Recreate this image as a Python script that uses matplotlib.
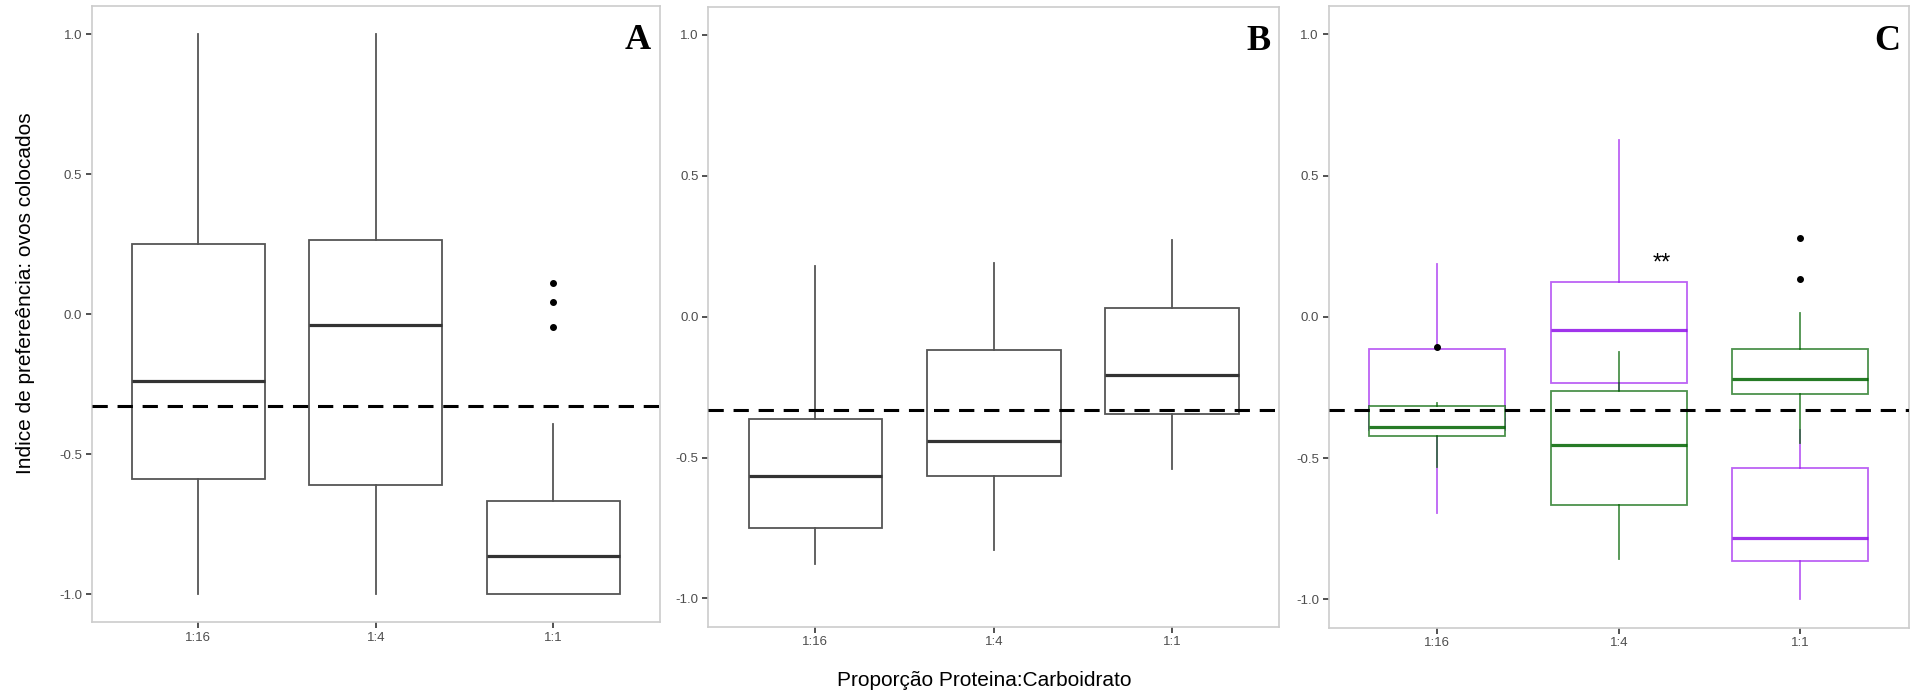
import matplotlib
matplotlib.use("Agg")
import matplotlib.pyplot as plt
from matplotlib.colors import to_rgba

plt.rcParams["font.family"] = ["Liberation Sans", "DejaVu Sans"]

# categorias do eixo x
categorias = ["1:16", "1:4", "1:1"]

# painel A
a_whislo = [-1.0, -1.0, -1.0]
a_q1 = [-0.589, -0.609, -1.0]
a_med = [-0.240, -0.040, -0.864]
a_q3 = [0.250, 0.265, -0.668]
a_whishi = [1.0, 1.0, -0.393]
a_fliers = [[], [], [0.111, 0.042, -0.045]]

# painel B
b_whislo = [-0.878, -0.827, -0.539]
b_q1 = [-0.749, -0.564, -0.347]
b_med = [-0.566, -0.442, -0.207]
b_q3 = [-0.364, -0.120, 0.029]
b_whishi = [0.181, 0.190, 0.272]
b_fliers = [[], [], []]

# painel C - roxo
roxo_whislo = [-0.694, -0.55, -1.0]
roxo_q1 = [-0.40, -0.233, -0.865]
roxo_med = [-0.36, -0.048, -0.782]
roxo_q3 = [-0.112, 0.124, -0.536]
roxo_whishi = [0.187, 0.626, -0.40]
roxo_fliers = [[], [], []]

# painel C - verde
verde_whislo = [-0.530, -0.857, -0.448]
verde_q1 = [-0.423, -0.666, -0.272]
verde_med = [-0.389, -0.453, -0.219]
verde_q3 = [-0.316, -0.261, -0.115]
verde_whishi = [-0.306, -0.126, 0.014]
verde_fliers = [[-0.106], [], [0.279, 0.134]]

linha_ref = -0.33
letras = ["A", "B", "C"]


def montar_stats(whislo, q1, med, q3, whishi, fliers):
    stats = []
    for i in range(len(categorias)):
        stats.append({
            "whislo": whislo[i], "q1": q1[i], "med": med[i],
            "q3": q3[i], "whishi": whishi[i], "fliers": fliers[i],
        })
    return stats


def desenhar(ax, stats, cor_caixa, cor_mediana, alpha=1.0, z=2):
    borda = to_rgba(cor_caixa, alpha)
    mediana = to_rgba(cor_mediana, min(1.0, alpha + 0.15))
    ax.bxp(
        stats,
        positions=[1, 2, 3],
        widths=0.75,
        showcaps=False,
        patch_artist=True,
        zorder=z,
        boxprops=dict(facecolor="white", edgecolor=borda, linewidth=1.3),
        whiskerprops=dict(color=borda, linewidth=1.3),
        medianprops=dict(color=mediana, linewidth=2.3),
        flierprops=dict(marker="o", markerfacecolor="black", markeredgecolor="black", markersize=4),
    )


fig = plt.figure(figsize=(19.15, 6.94), dpi=100)

posicoes = [
    [0.04804, 0.1037, 0.2964, 0.8876],
    [0.3699, 0.0970, 0.2982, 0.8934],
    [0.6938, 0.0955, 0.3030, 0.8958],
]
eixos = [fig.add_axes(p) for p in posicoes]

desenhar(eixos[0], montar_stats(a_whislo, a_q1, a_med, a_q3, a_whishi, a_fliers), "#555555", "#333333")
desenhar(eixos[1], montar_stats(b_whislo, b_q1, b_med, b_q3, b_whishi, b_fliers), "#555555", "#333333")
desenhar(eixos[2], montar_stats(roxo_whislo, roxo_q1, roxo_med, roxo_q3, roxo_whishi, roxo_fliers), "#A020F0", "#9010E8", 0.7, z=2)
desenhar(eixos[2], montar_stats(verde_whislo, verde_q1, verde_med, verde_q3, verde_whishi, verde_fliers), "#006400", "#006400", 0.7, z=3)

for ax, letra in zip(eixos, letras):
    ax.axhline(linha_ref, color="black", linewidth=2.2, linestyle=(0, (5, 3.2)), zorder=5)
    ax.set_xlim(0.4, 3.6)
    ax.set_ylim(-1.1, 1.1)
    ax.set_xticks([1, 2, 3])
    ax.set_xticklabels(categorias)
    ax.set_yticks([-1.0, -0.5, 0.0, 0.5, 1.0])
    ax.set_yticklabels(["-1.0", "-0.5", "0.0", "0.5", "1.0"])
    ax.tick_params(length=4, width=1.2, color="#333333", labelcolor="#4d4d4d", labelsize=9.5, pad=3)
    for s in ax.spines.values():
        s.set_color("#cccccc")
        s.set_linewidth(1.2)
    ax.text(0.985, 0.93, letra, transform=ax.transAxes, ha="right", va="baseline",
            fontsize=26, fontweight="bold", family="Liberation Serif")

eixos[2].text(2.24, 0.19, "**", ha="center", va="center", fontsize=17, color="black", zorder=6)

fig.text(26 / 1915, 1 - 293 / 694, "Indice de prefereência: ovos colocados",
         rotation=90, ha="center", va="center", fontsize=15, color="black")
fig.text(984 / 1915, 1 - 680 / 694, "Proporção Proteina:Carboidrato",
         ha="center", va="center", fontsize=15, color="black")

fig.savefig("out.png", dpi=100)
